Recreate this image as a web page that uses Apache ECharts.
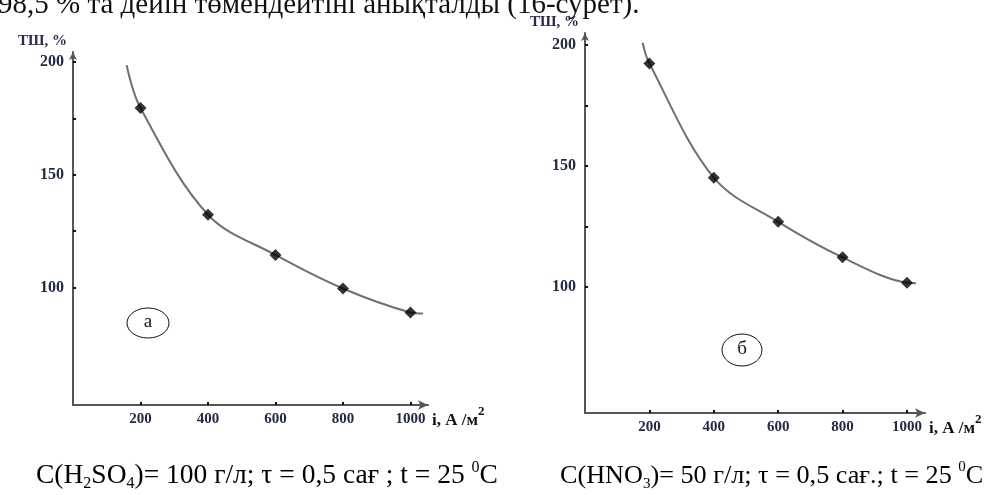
<!DOCTYPE html>
<html>
<head>
<meta charset="utf-8">
<script src="https://cdn.jsdelivr.net/npm/echarts@6/dist/echarts.min.js"></script>
<style>
  html, body { margin: 0; padding: 0; background: #fff; }
  #chart { width: 992px; height: 495px; }
</style>
</head>
<body>
<div id="chart"></div>
<script>
// current density ticks, A/m2
const xTicks = [200, 400, 600, 800, 1000];
const yTicks = [100, 125, 150, 175, 200];
const yLabels = [100, 150, 200];

// (а) H2SO4
const currentA = [200, 400, 600, 800, 1000];
const yieldA = [179.6, 132.3, 114.5, 99.6, 89.0];
const curveStartA = [159, 198.5];
const curveEndA = [1037, 88.5];

// (б) HNO3
const currentB = [200, 400, 600, 800, 1000];
const yieldB = [192.4, 145.2, 127.0, 112.3, 101.8];
const curveStartB = [179, 201];
const curveEndB = [1028, 101.6];

const serif = 'Liberation Serif';
const axisColor = '#555';
const labelColor = '#222a44';

const pairs = (xs, ys) => xs.map((x, i) => [x, ys[i]]);

function xAxisFor(gridIndex, max) {
  return {
    type: 'value',
    gridIndex,
    min: 0,
    max,
    axisLine: {
      onZero: false,
      lineStyle: { color: axisColor, width: 2 },
      symbol: ['none', 'arrow'],
      symbolSize: [7, 10],
    },
    axisTick: { customValues: xTicks, inside: true, length: 3, lineStyle: { color: '#111', width: 2 } },
    axisLabel: {
      customValues: xTicks,
      formatter: (v) => String(v),
      margin: 7,
      fontFamily: serif,
      fontSize: 15,
      fontWeight: 'bold',
      color: labelColor,
    },
    splitLine: { show: false },
    name: '{a|i, A /м}{s|2}',
    nameLocation: 'end',
    nameGap: 4,
    nameTextStyle: {
      verticalAlign: 'top',
      rich: {
        a: { fontFamily: serif, fontSize: 17, fontWeight: 'bold', color: '#111', lineHeight: 24, verticalAlign: 'bottom' },
        s: { fontFamily: serif, fontSize: 13, fontWeight: 'bold', color: '#111', lineHeight: 24, verticalAlign: 'top' },
      },
    },
  };
}

function yAxisFor(gridIndex, max) {
  return {
    type: 'value',
    gridIndex,
    min: 48,
    max,
    axisLine: {
      onZero: false,
      lineStyle: { color: axisColor, width: 2 },
      symbol: ['none', 'arrow'],
      symbolSize: [6, 8],
    },
    axisTick: { customValues: yTicks, inside: true, length: 3, lineStyle: { color: '#111', width: 2 } },
    axisLabel: {
      customValues: yLabels,
      margin: 9,
      fontFamily: serif,
      fontSize: 16,
      fontWeight: 'bold',
      color: labelColor,
    },
    splitLine: { show: false },
    name: 'ТШ, %',
    nameLocation: 'end',
    nameGap: 3,
    nameTextStyle: {
      align: 'right',
      padding: [0, 6, 0, 0],
      fontFamily: serif,
      fontSize: 15,
      fontWeight: 'bold',
      color: '#2a2a50',
    },
  };
}

function curve(xAxisIndex, start, xs, ys, end) {
  return {
    type: 'line',
    xAxisIndex,
    yAxisIndex: xAxisIndex,
    smooth: 0.35,
    symbol: 'none',
    lineStyle: { color: '#707070', width: 2 },
    data: [start, ...pairs(xs, ys), end],
    z: 2,
  };
}

function markers(xAxisIndex, xs, ys) {
  return {
    type: 'scatter',
    xAxisIndex,
    yAxisIndex: xAxisIndex,
    symbol: 'diamond',
    symbolSize: 12,
    itemStyle: { color: '#000' },
    data: pairs(xs, ys),
    z: 3,
  };
}

function captionRich(size) {
  return {
    n: { fontFamily: serif, fontSize: size, color: '#111', lineHeight: 32, verticalAlign: 'middle' },
    sub: { fontFamily: serif, fontSize: Math.round(size * 0.58), color: '#111', lineHeight: 32, verticalAlign: 'bottom' },
    sup: { fontFamily: serif, fontSize: Math.round(size * 0.58), color: '#111', lineHeight: 32, verticalAlign: 'top' },
  };
}

const myChart = echarts.init(document.getElementById('chart'), null, { renderer: 'canvas' });
myChart.setOption({
  animation: false,
  backgroundColor: '#fff',
  grid: [
    { left: 73, top: 52, width: 355, height: 353 },
    { left: 585, top: 33, width: 340, height: 380 },
  ],
  xAxis: [xAxisFor(0, 1052), xAxisFor(1, 1056)],
  yAxis: [yAxisFor(0, 204.4), yAxisFor(1, 205)],
  series: [
    curve(0, curveStartA, currentA, yieldA, curveEndA),
    markers(0, currentA, yieldA),
    curve(1, curveStartB, currentB, yieldB, curveEndB),
    markers(1, currentB, yieldB),
  ],
  graphic: [
    // cut-off line of body text above the figure
    {
      type: 'text', left: -2, top: -9,
      style: { text: '98,5 % та дейін төмендейтіні анықталды (16-сурет).', font: '29px "Liberation Serif"', fill: '#111' },
    },
    { type: 'ellipse', shape: { cx: 148, cy: 323, rx: 21, ry: 15 }, style: { fill: 'none', stroke: '#111', lineWidth: 1 } },
    { type: 'text', x: 148, y: 322, style: { text: 'а', font: '19px "Liberation Serif"', fill: '#111', align: 'center', verticalAlign: 'middle' } },
    { type: 'ellipse', shape: { cx: 742, cy: 350, rx: 20, ry: 16 }, style: { fill: 'none', stroke: '#111', lineWidth: 1 } },
    { type: 'text', x: 742, y: 349, style: { text: 'б', font: '19px "Liberation Serif"', fill: '#111', align: 'center', verticalAlign: 'middle' } },
    {
      type: 'text', x: 36, y: 460,
      style: {
        text: '{n|C(H}{sub|2}{n|SO}{sub|4}{n|)= 100 г/л; τ = 0,5 сағ ; t = 25 }{sup|0}{n|C}',
        rich: captionRich(27.5),
      },
    },
    {
      type: 'text', x: 560, y: 460,
      style: {
        text: '{n|C(HNO}{sub|3}{n|)= 50 г/л; τ = 0,5 сағ.; t = 25 }{sup|0}{n|C}',
        rich: captionRich(26.2),
      },
    },
  ],
});
</script>
</body>
</html>
